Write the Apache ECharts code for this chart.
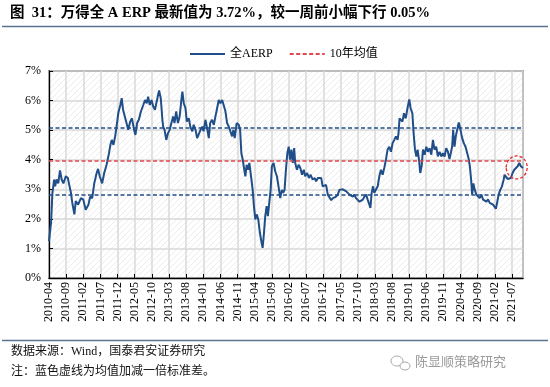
<!DOCTYPE html>
<html><head><meta charset="utf-8">
<script src="https://cdn.jsdelivr.net/npm/echarts@6/dist/echarts.min.js"></script>
<style>html,body{margin:0;padding:0;background:#fff}#c{width:550px;height:387px}</style>
</head><body><div id="c"></div>
<script>
// ---- data ----
const dates = [
 '2010-04-01','2010-04-19','2010-05-01','2010-05-16','2010-05-25','2010-06-07','2010-06-22','2010-07-07','2010-07-22','2010-08-07','2010-08-28','2010-09-16','2010-09-25','2010-10-13','2010-10-25','2010-11-13','2010-11-25','2010-12-16',
 '2011-01-10','2011-02-01','2011-02-22','2011-03-16','2011-04-01','2011-04-19','2011-05-07','2011-05-28','2011-06-10','2011-06-25','2011-07-16','2011-08-04','2011-08-25','2011-09-16','2011-09-28','2011-10-10','2011-10-25','2011-11-10','2011-11-22','2011-12-07','2011-12-25',
 '2012-01-07','2012-01-19','2012-02-04','2012-02-19','2012-03-04','2012-03-22','2012-04-07','2012-04-25','2012-05-07','2012-05-22','2012-06-07','2012-06-25','2012-07-16','2012-08-01','2012-08-16','2012-08-28','2012-09-13','2012-09-28','2012-10-13','2012-10-28','2012-11-16','2012-12-04','2012-12-19',
 '2013-01-03','2013-01-10','2013-01-22','2013-02-07','2013-02-22','2013-03-07','2013-03-22','2013-04-07','2013-04-19','2013-05-04','2013-05-19','2013-06-04','2013-06-19','2013-06-28','2013-07-10','2013-07-25','2013-08-07','2013-08-25','2013-09-07','2013-09-25','2013-10-07','2013-10-23','2013-11-07','2013-11-22','2013-12-07','2013-12-21',
 '2014-01-03','2014-01-20','2014-02-04','2014-02-19','2014-03-01','2014-03-18','2014-04-03','2014-04-17','2014-05-02','2014-05-16','2014-06-01','2014-06-16','2014-06-29','2014-07-15','2014-07-29','2014-08-14','2014-08-28','2014-09-13','2014-09-24','2014-10-06','2014-10-23','2014-11-11','2014-11-23','2014-12-04','2014-12-16','2014-12-27',
 '2015-01-09','2015-01-20','2015-02-02','2015-02-14','2015-02-27','2015-03-13','2015-03-24','2015-04-06','2015-04-18','2015-05-02','2015-05-16','2015-06-01','2015-06-10','2015-06-22','2015-07-03','2015-07-15','2015-07-26','2015-08-08','2015-08-20','2015-09-01','2015-09-16','2015-09-30','2015-10-15','2015-10-29','2015-11-14','2015-11-28','2015-12-10','2015-12-22',
 '2016-01-04','2016-01-16','2016-01-28','2016-02-10','2016-02-22','2016-03-04','2016-03-16','2016-03-25','2016-04-10','2016-04-25','2016-05-10','2016-05-25','2016-06-10','2016-06-22','2016-07-10','2016-07-25','2016-08-10','2016-08-28','2016-09-16','2016-09-28','2016-10-13','2016-10-28','2016-11-13','2016-11-25','2016-12-10','2016-12-25',
 '2017-01-10','2017-01-25','2017-02-10','2017-02-25','2017-03-10','2017-03-22','2017-04-07','2017-04-22','2017-05-07','2017-05-22','2017-06-07','2017-06-22','2017-07-05','2017-07-20','2017-08-04','2017-08-19','2017-09-03','2017-09-17','2017-10-02','2017-10-17','2017-11-01','2017-11-16','2017-11-30','2017-12-15','2017-12-29',
 '2018-01-14','2018-01-23','2018-02-04','2018-02-16','2018-02-27','2018-03-12','2018-03-27','2018-04-11','2018-04-25','2018-05-10','2018-05-24','2018-06-09','2018-06-23','2018-07-08','2018-07-23','2018-08-07','2018-08-22','2018-09-06','2018-09-21','2018-09-29','2018-10-08','2018-10-18','2018-11-03','2018-11-17','2018-12-02','2018-12-17',
 '2019-01-03','2019-01-15','2019-01-30','2019-02-11','2019-02-23','2019-03-05','2019-03-16','2019-03-28','2019-04-09','2019-04-21','2019-05-03','2019-05-17','2019-06-02','2019-06-16','2019-07-01','2019-07-16','2019-07-30','2019-08-14','2019-08-29','2019-09-13','2019-09-28','2019-10-13','2019-10-27','2019-11-12','2019-11-26','2019-12-11','2019-12-25',
 '2020-01-10','2020-01-18','2020-01-27','2020-02-09','2020-02-20','2020-03-02','2020-03-16','2020-04-01','2020-04-16','2020-04-30','2020-05-15','2020-05-29','2020-06-11','2020-06-23','2020-07-04','2020-07-13','2020-07-24','2020-08-06','2020-08-20','2020-09-05','2020-09-19','2020-10-04','2020-10-19','2020-11-03','2020-11-18','2020-12-02','2020-12-17',
 '2021-01-01','2021-01-16','2021-01-30','2021-02-11','2021-02-23','2021-03-05','2021-03-19','2021-04-04','2021-04-19','2021-04-27','2021-05-09','2021-05-23','2021-06-08','2021-06-22','2021-07-07','2021-07-22','2021-08-06','2021-08-21','2021-09-05','2021-09-19','2021-10-08'
];
const erp = [
 1.25,1.87,2.88,3.33,3.10,3.33,3.20,3.64,3.33,3.20,3.44,3.38,3.20,2.88,2.54,2.15,2.60,2.48,
 2.70,2.65,2.31,2.48,2.75,2.70,3.20,3.55,3.69,3.44,3.20,3.55,3.83,4.22,4.50,4.67,4.50,4.79,5.12,5.57,5.85,
 6.08,5.69,5.63,5.24,5.01,5.29,5.40,5.01,4.84,5.24,5.35,5.63,5.85,6.02,5.91,6.13,5.85,6.02,5.80,5.69,6.02,6.34,6.08,
 5.35,5.12,5.01,4.67,4.90,5.01,5.24,5.46,5.24,5.63,5.24,5.46,6.02,6.30,5.91,5.74,5.29,5.40,5.12,4.96,5.18,5.01,4.73,4.67,5.01,5.12,
 4.96,5.35,5.07,4.73,5.24,5.35,5.18,5.46,5.74,6.02,5.91,6.02,5.85,5.63,5.24,5.12,4.96,4.79,5.01,4.73,5.24,5.18,5.01,4.22,4.00,3.72,
 3.44,3.83,3.66,3.89,3.49,2.98,2.43,1.98,2.15,1.98,1.53,1.19,1.02,1.53,2.09,2.43,2.09,2.54,2.98,3.78,3.89,3.61,3.44,3.10,2.70,2.98,2.88,2.98,
 3.66,4.22,4.44,4.00,4.34,3.89,4.39,3.89,3.66,3.83,3.72,3.49,3.66,3.44,3.55,3.38,3.49,3.33,3.38,3.27,3.38,3.33,3.38,3.10,3.04,3.15,
 2.82,2.88,2.63,2.70,2.65,2.75,2.82,2.98,3.04,3.00,3.04,2.93,2.98,2.82,2.88,2.75,2.82,2.70,2.75,2.58,2.54,2.65,2.75,2.82,2.65,
 2.48,2.37,2.88,3.10,2.88,2.82,3.10,3.44,3.66,3.49,3.72,4.00,4.34,4.44,4.27,4.56,4.67,4.79,4.67,4.90,5.40,5.46,5.29,5.57,5.40,5.74,
 6.04,5.74,5.57,4.90,4.34,4.11,4.34,4.00,3.55,3.78,4.34,4.17,4.44,4.27,4.39,4.17,4.67,4.34,4.44,4.11,4.27,4.11,4.22,4.11,4.39,4.27,4.02,
 4.00,4.44,5.01,4.44,4.79,5.01,5.26,5.01,4.73,4.56,4.44,4.50,4.06,3.78,3.33,2.82,3.20,2.98,2.82,2.88,2.70,2.82,2.65,2.70,2.58,2.66,2.54,
 2.58,2.48,2.43,2.34,2.58,2.82,2.98,3.10,3.33,3.49,3.44,3.35,3.33,3.38,3.55,3.66,3.61,3.78,3.89,3.78,3.72
];
const meanLine = [3.96];          // 10年均值
const sdBands = [5.08, 2.82];     // 均值加减一倍标准差
const xTickLabels = ['2010-04','2010-09','2011-02','2011-07','2011-12','2012-05','2012-10','2013-03','2013-08','2014-01','2014-06','2014-11','2015-04','2015-09','2016-02','2016-07','2016-12','2017-05','2017-10','2018-03','2018-08','2019-01','2019-06','2019-11','2020-04','2020-09','2021-02','2021-07'];
const yTicks = [0,1,2,3,4,5,6,7];
const highlightPoint = ['2021-08-13', 3.74]; // 红色虚线圈中心

// ---- helpers ----
function monthIdx(d){ const [y,m,dd] = d.split('-').map(Number); return (y-2010)*12 + (m-4) + (dd-1)/30; }
const seriesData = dates.map((d,i)=>[monthIdx(d), erp[i]]);
const xMax = monthIdx(dates[dates.length-1]);

const pat = document.createElement('canvas'); pat.width = 6; pat.height = 6;
(function(){ const g = pat.getContext('2d'); g.fillStyle='#ffffff'; g.fillRect(0,0,6,6);
 g.strokeStyle='#ececec'; g.lineWidth=1; g.beginPath();
 g.moveTo(0,6); g.lineTo(6,0); g.moveTo(-1,1); g.lineTo(1,-1); g.moveTo(5,7); g.lineTo(7,5); g.stroke(); })();

const serif = '"Times New Roman","Liberation Serif","Noto Sans CJK SC",serif';
const navy = '#1f4e89', red = '#e0474c';

const chart = echarts.init(document.getElementById('c'), null, {renderer:'canvas'});
chart.setOption({
 animation:false,
 backgroundColor:'#fff',
 legend:{ top:43, left:184, itemWidth:35, itemHeight:12, itemGap:16,
   itemStyle:{opacity:0},
   textStyle:{fontFamily:serif, fontSize:12, color:'#000'}, data:['全AERP','10年均值'] },
 grid:{ left:49, right:27, top:71, bottom:109, show:true,
   backgroundColor:{image:pat, repeat:'repeat'}, borderColor:'#3a3a3a', borderWidth:1.3 },
 xAxis:{ type:'value', min:0, max:xMax, interval:5,
   axisLine:{show:true, onZero:false, lineStyle:{color:'#000', width:1.3}},
   axisTick:{show:true, inside:true, length:4, lineStyle:{color:'#000'}},
   splitLine:{show:true, lineStyle:{color:'#d9d9d9', width:1.5}},
   axisLabel:{ rotate:90, margin:4, showMaxLabel:false, fontFamily:serif, fontSize:12, color:'#000',
     formatter:v=>{ const i = Math.round(v/5); return (Math.abs(v-i*5)<1e-6 && xTickLabels[i]) ? xTickLabels[i] : ''; } } },
 yAxis:{ type:'value', min:yTicks[0], max:yTicks[yTicks.length-1], interval:1,
   axisLine:{show:true, lineStyle:{color:'#000', width:1.3}},
   axisTick:{show:true, inside:true, length:4, lineStyle:{color:'#000'}},
   splitLine:{show:true, lineStyle:{color:'#d9d9d9', width:1.5}},
   axisLabel:{ formatter:'{value}%', fontFamily:serif, fontSize:12, color:'#000', margin:8 } },
 series:[
  { name:'全AERP', type:'line', data:seriesData, symbol:'none', z:3,
    lineStyle:{color:navy, width:2}, itemStyle:{color:navy},
    markLine:{ symbol:'none', silent:true, label:{show:false}, animation:false,
      data: sdBands.map(v=>({yAxis:v, lineStyle:{color:navy, type:[4,2.5], width:1.5}}))
        .concat(meanLine.map(v=>({yAxis:v, lineStyle:{color:red, type:[4,2.5], width:1.5}}))) } },
  { name:'10年均值', type:'line', data:[], symbol:'none',
    lineStyle:{color:red, type:[4,2.5], width:1.5}, itemStyle:{color:red} }
 ]
});

const cp = chart.convertToPixel({gridIndex:0}, [monthIdx(highlightPoint[0]), highlightPoint[1]]);
chart.setOption({ graphic:[
  { type:'text', left:10, top:6, style:{ text:'图  31：万得全 A ERP 最新值为 3.72%，较一周前小幅下行 0.05%',
     font:'bold 14.5px '+serif, fill:'#000' } },
  { type:'line', shape:{x1:2, y1:26.5, x2:548, y2:26.5}, style:{stroke:'#5a7394', lineWidth:1.5} },
  { type:'line', shape:{x1:2, y1:340.5, x2:548, y2:340.5}, style:{stroke:'#5a7394', lineWidth:1.5} },
  { type:'text', left:11, top:346, style:{ text:'数据来源：Wind，国泰君安证券研究', font:'12px '+serif, fill:'#111' } },
  { type:'text', left:11, top:366, style:{ text:'注：蓝色虚线为均值加减一倍标准差。', font:'12px '+serif, fill:'#111' } },
  { type:'text', left:415, top:355, style:{ text:'陈显顺策略研究', font:'13px "Noto Sans CJK SC",sans-serif', fill:'#9a9a9a' } },
  { type:'ellipse', shape:{cx:397, cy:361, rx:6, ry:5}, style:{fill:'none', stroke:'#a8a8a8', lineWidth:1} },
  { type:'ellipse', shape:{cx:405, cy:366, rx:5, ry:4}, style:{fill:'#fff', stroke:'#a8a8a8', lineWidth:1} },
  { type:'ellipse', shape:{cx:cp[0], cy:cp[1], rx:10.5, ry:11.5}, z:10,
    style:{fill:'none', stroke:'#e8262b', lineWidth:1.3, lineDash:[3,2]} }
]});
</script></body></html>
